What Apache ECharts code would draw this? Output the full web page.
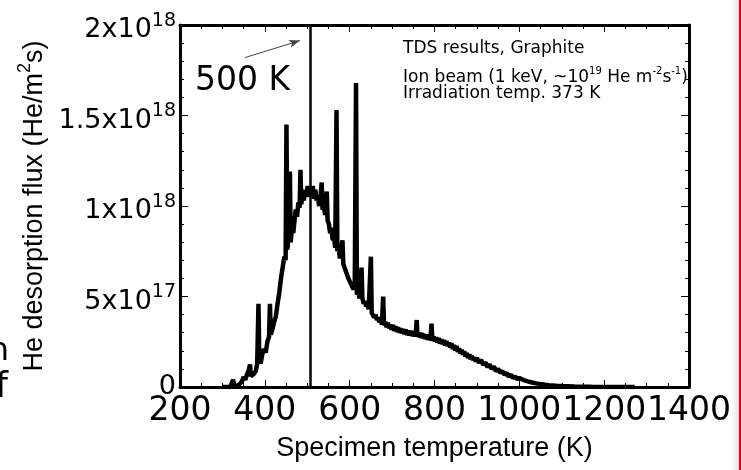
<!DOCTYPE html>
<html><head><meta charset="utf-8">
<script src="https://cdn.jsdelivr.net/npm/echarts@6/dist/echarts.min.js"></script>
<style>html,body{margin:0;padding:0;background:#fff}#c{width:741px;height:470px}</style>
</head><body><div id="c"></div>
<script>
// TDS curve: [temperature (K), He desorption flux (x1e17 He/m2s)]
const tdsData = [
[300,0],[318,0],[322,0.2],[325,0.4],[328,0.1],[334,0.05],[340,0.15],[346,0.3],[350,0.55],[354,0.4],
[358,0.7],[362,0.9],[365,1.25],[367,0.6],[371,0.5],[375,0.75],[379,0.9],[382,1.3],[385,4.6],[387,1.5],
[390,1.3],[394,1.8],[398,2.1],[402,1.9],[406,2.5],[410,2.8],[412,4.6],[414,2.9],[418,3.2],[422,3.6],
[426,3.9],[430,4.6],[434,5.2],[438,6.0],[442,6.6],[446,7.2],[449,7.0],[451,14.5],[453,7.6],[456,8.3],
[459,11.9],[461,8.0],[464,8.8],[467,8.5],[470,9.2],[473,9.8],[476,9.4],[479,10.2],[482,9.9],[484,12.0],
[486,10.1],[489,10.7],[492,10.3],[495,10.9],[498,10.5],[501,11.1],[504,10.5],[507,11.0],[510,10.6],[513,11.1],
[516,10.4],[519,10.9],[522,10.3],[525,10.6],[528,10.0],[531,10.4],[534,11.3],[536,9.8],[539,10.1],[542,9.5],
[546,10.8],[548,9.2],[551,9.0],[554,8.5],[557,8.8],[560,8.1],[563,8.3],[566,7.7],[569,15.3],[571,7.5],
[574,7.7],[577,7.1],[580,7.2],[583,8.1],[585,6.8],[588,6.8],[591,6.4],[594,6.5],[597,6.0],[600,6.1],
[603,5.7],[606,5.8],[609,5.4],[612,5.6],[615,16.8],[617,5.1],[620,5.3],[623,4.9],[626,5.0],[628,6.6],
[630,4.9],[633,4.6],[636,4.75],[639,4.45],[642,4.6],[645,4.3],[648,4.35],[650,7.2],[652,4.1],[655,4.2],
[658,3.85],[661,4.0],[664,3.7],[667,3.85],[670,3.58],[673,3.75],[676,3.45],[679,5.0],[681,3.4],[684,3.6],
[687,3.3],[690,3.55],[693,3.25],[696,3.45],[699,3.17],[702,3.42],[705,3.1],[708,3.35],[711,3.05],[714,3.3],
[717,3.0],[720,3.25],[723,2.97],[726,3.2],[729,2.92],[732,3.18],[735,2.88],[738,3.12],[741,2.85],[744,3.1],
[747,2.82],[750,3.06],[753,2.8],[756,3.04],[758,3.7],[760,2.77],[763,3.0],[766,2.74],[769,2.98],[772,2.7],
[775,2.93],[778,2.66],[781,2.9],[784,2.62],[787,2.85],[790,2.58],[793,3.5],[795,2.55],[798,2.78],[801,2.52],
[804,2.74],[807,2.46],[810,2.7],[813,2.4],[816,2.64],[819,2.36],[822,2.6],[825,2.3],[828,2.54],[831,2.26],
[834,2.46],[837,2.18],[840,2.42],[843,2.1],[846,2.32],[849,2.02],[852,2.26],[855,1.94],[858,2.14],[861,1.86],
[864,2.06],[867,1.78],[870,1.98],[873,1.68],[876,1.88],[879,1.6],[882,1.8],[885,1.54],[888,1.72],[891,1.48],
[894,1.64],[897,1.4],[900,1.6],[905,1.34],[910,1.5],[915,1.22],[920,1.36],[925,1.1],[930,1.24],[935,1.0],
[940,1.13],[945,0.88],[950,1.0],[955,0.78],[960,0.88],[965,0.68],[970,0.78],[975,0.58],[980,0.68],[985,0.5],
[990,0.58],[995,0.44],[1000,0.5],[1010,0.38],[1020,0.31],[1030,0.25],[1040,0.2],[1050,0.16],[1060,0.13],[1070,0.1],
[1080,0.08],[1090,0.06],[1100,0.05],[1130,0.03],[1170,0.015],[1220,0],[1272,0]
];
const xTickValues = [200, 400, 600, 800, 1000, 1200, 1400];
const xTickLabels = ['200', '400', '600', '800', '1000', '1200', '1400'];
const yTickValues = [0, 5, 10, 15, 20];
const yTickLabels = ['0', '{b|5x10}{s|17}', '{b|1x10}{s|18}', '{b|1.5x10}{s|18}', '{b|2x10}{s|18}'];
const markerTemperature = 506;
const arrowStart = [353, 18.2];
const arrowEnd = [483, 19.14];

const chart = echarts.init(document.getElementById('c'), null, {renderer: 'canvas'});
const axisLineStyle = {color: '#000', width: 3};
const tickStyle = {color: '#000', width: 1};
const tickFont = 'DejaVu Sans';
const titleFont = 'Liberation Sans';

function xAxisDef(pos, showLabel) {
  return {
    type: 'value', min: 200, max: 1400, interval: 200, position: pos,
    axisLine: {show: true, onZero: false, lineStyle: axisLineStyle},
    axisTick: {show: true, inside: true, length: 7, lineStyle: tickStyle},
    minorTick: {show: true, splitNumber: 4, length: 4, lineStyle: tickStyle},
    splitLine: {show: false},
    axisLabel: {show: showLabel, color: '#000', fontFamily: tickFont, fontSize: 33, margin: 8,
      showMinLabel: true, showMaxLabel: true, hideOverlap: false,
      formatter: function (v) { const i = xTickValues.indexOf(v); return i >= 0 ? xTickLabels[i] : ''; }},
    name: showLabel ? 'Specimen temperature (K)' : '',
    nameLocation: 'middle', nameGap: 48,
    nameTextStyle: {fontFamily: titleFont, fontSize: 27, color: '#000'}
  };
}
function yAxisDef(pos, showLabel) {
  return {
    type: 'value', min: 0, max: 20, interval: 5, position: pos,
    axisLine: {show: true, onZero: false, lineStyle: axisLineStyle},
    axisTick: {show: true, inside: true, length: 8, lineStyle: tickStyle},
    minorTick: {show: true, splitNumber: 5, length: 4, lineStyle: tickStyle},
    splitLine: {show: false},
    axisLabel: {show: showLabel, color: '#000', fontFamily: tickFont, fontSize: 27, margin: 4,
      showMinLabel: true, showMaxLabel: true, hideOverlap: false,
      formatter: function (v) { const i = yTickValues.indexOf(v); return i >= 0 ? yTickLabels[i] : ''; },
      rich: {
        b: {fontFamily: tickFont, fontSize: 27, color: '#000', padding: [10, 0, 0, 0]},
        s: {fontFamily: tickFont, fontSize: 19, color: '#000', verticalAlign: 'top', padding: [5, 0, 0, 0]}
      }},
    name: showLabel ? '{b|He desorption flux (He/m}{s|2}{b|s)}' : '',
    nameLocation: 'middle', nameGap: 118, nameRotate: 90,
    nameTextStyle: {color: '#000', rich: {
      b: {fontFamily: titleFont, fontSize: 27, color: '#000', padding: [5, 0, 0, 0]},
      s: {fontFamily: titleFont, fontSize: 18, color: '#000', verticalAlign: 'top'}
    }}
  };
}

const option = {
  animation: false,
  backgroundColor: '#fff',
  grid: {left: 180, right: 52, top: 25, bottom: 83, containLabel: false},
  xAxis: [xAxisDef('bottom', true), xAxisDef('top', false)],
  yAxis: [yAxisDef('left', true), yAxisDef('right', false)],
  series: [
    {
      type: 'line', data: tdsData, showSymbol: false, symbol: 'none',
      lineStyle: {color: '#000', width: 4.5, join: 'bevel', cap: 'butt'},
      silent: true,
      markLine: {
        silent: true, symbol: ['none', 'none'], label: {show: false},
        lineStyle: {color: '#000', width: 2.5, type: 'solid'},
        data: [{xAxis: markerTemperature}]
      }
    },
    {
      type: 'line', data: [], silent: true,
      markLine: {
        silent: true, symbol: ['none', 'arrow'], symbolSize: [6, 11], label: {show: false},
        lineStyle: {color: '#444', width: 1, type: 'solid'},
        data: [[{coord: arrowStart}, {coord: arrowEnd}]]
      }
    }
  ],
  graphic: [
    {type: 'text', left: 195, top: 65, style: {text: '500 K', fontFamily: tickFont, fontSize: 33, fill: '#000'}},
    {type: 'text', x: 403, y: 49, style: {text: 'TDS results, Graphite', fontFamily: tickFont, fontSize: 17, fill: '#000', verticalAlign: 'middle'}},
    {type: 'text', x: 403, y: 76.5, style: {
      text: '{b|Ion beam (1 keV, ~10}{s|19}{b| He m}{s|-2}{b|s}{s|-1}{b|)}',
      verticalAlign: 'middle',
      rich: {
        b: {fontFamily: tickFont, fontSize: 17, fill: '#000', padding: [2.5, 0, 0, 0]},
        s: {fontFamily: tickFont, fontSize: 10, fill: '#000', verticalAlign: 'top'}
      }}},
    {type: 'text', x: 403, y: 93.5, style: {text: 'Irradiation temp. 373 K', fontFamily: tickFont, fontSize: 17, fill: '#000', verticalAlign: 'middle'}},
    {type: 'text', x: 9, y: 352, style: {text: 'n', fontFamily: tickFont, fontSize: 32, fill: '#000', align: 'right', verticalAlign: 'middle'}},
    {type: 'text', x: 8, y: 388, style: {text: 'f', fontFamily: tickFont, fontSize: 36, fill: '#000', align: 'right', verticalAlign: 'middle'}},
    {type: 'rect', shape: {x: 731, y: 0, width: 8, height: 470}, style: {fill: new echarts.graphic.LinearGradient(0, 0, 1, 0, [{offset: 0, color: 'rgba(230,230,230,0)'}, {offset: 1, color: '#e2e2e2'}])}},
    {type: 'rect', shape: {x: 739, y: 0, width: 2, height: 470}, style: {fill: '#e3000f'}}
  ]
};
chart.setOption(option);
</script>
</body></html>
